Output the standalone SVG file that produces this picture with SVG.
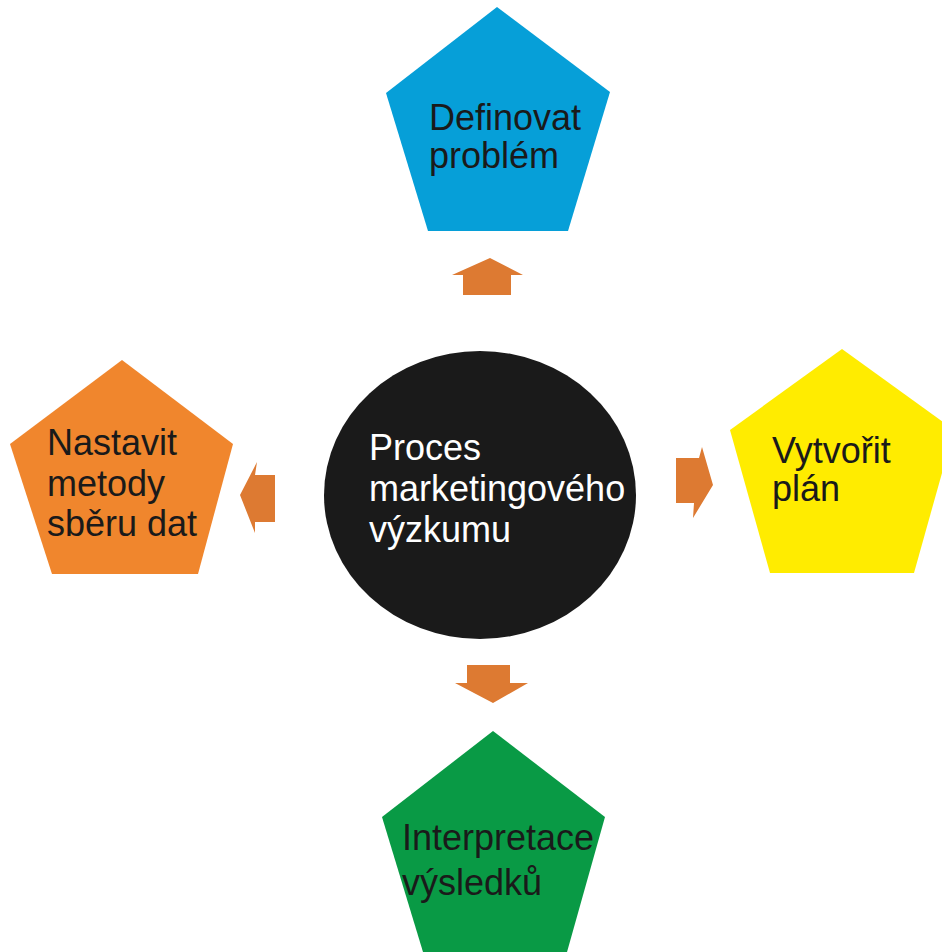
<svg xmlns="http://www.w3.org/2000/svg" width="942" height="952" viewBox="0 0 942 952">
<style>
.lbl{font-family:"Liberation Sans",Arial,sans-serif;font-size:36px;fill:#1a1a1a}
.wlbl{font-family:"Liberation Sans",Arial,sans-serif;font-size:36px;fill:#ffffff}
.arr{fill:#DD7A32}
</style>
<rect width="942" height="952" fill="#ffffff"/>
<g id="center">
<ellipse cx="480" cy="495" rx="156" ry="144" fill="#1a1a1a"/>
<text class="wlbl" x="369" y="460">Proces</text>
<text class="wlbl" x="369" y="501">marketingového</text>
<text class="wlbl" x="369" y="542">výzkumu</text>
</g>
<g id="definovat">
<polygon points="497,7 610,92 568,231 428,231 386,93" fill="#069FD8"/>
<text class="lbl" x="429" y="130">Definovat</text>
<text class="lbl" x="429" y="168">problém</text>
</g>
<g id="vytvorit">
<polygon points="842,349 954,430 914,573 770,573 730,430" fill="#FFEC00"/>
<text class="lbl" x="772" y="463">Vytvořit</text>
<text class="lbl" x="772" y="501">plán</text>
</g>
<g id="interpretace">
<polygon points="493,731 605,817 567,952 423,952 382,817" fill="#099A45"/>
<text class="lbl" x="402" y="850">Interpretace</text>
<text class="lbl" x="402" y="895">výsledků</text>
</g>
<g id="nastavit">
<polygon points="122,360 233,444 198,574 52,574 10,444" fill="#F0862D"/>
<text class="lbl" x="47" y="455">Nastavit</text>
<text class="lbl" x="47" y="496">metody</text>
<text class="lbl" x="47" y="536">sběru dat</text>
</g>
<g id="connectors">
<polygon class="arr" points="490,258 523,275 511,275 511,295 463,295 463,275 452,275"/>
<polygon class="arr" points="467,665 510,665 510,683 528,683 493,703 455,683 467,683"/>
<polygon class="arr" points="240,495 257,462 255,475 275,475 275,522 255,522 255,533"/>
<polygon class="arr" points="713,485 693,518 694,503 676,503 676,458 699,458 702,447"/>
</g>
</svg>
